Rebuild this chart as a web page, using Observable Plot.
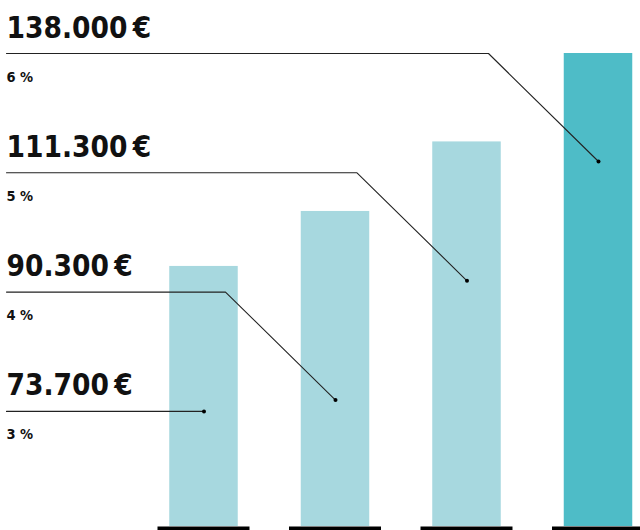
<!DOCTYPE html>
<html><head><meta charset="utf-8">
<script src="https://cdn.jsdelivr.net/npm/d3@7"></script>
<script src="https://cdn.jsdelivr.net/npm/@observablehq/plot@0.6"></script>
<style>html,body{margin:0;padding:0;background:#fff}svg{display:block}</style>
</head><body><div id="chart"></div>
<script>
// ---- data ----
const categories = ["1", "2", "3", "4"];
const values = [73700, 90300, 111300, 138000];
const valueLabels = ["73.700\u2009€", "90.300\u2009€", "111.300\u2009€", "138.000\u2009€"];
const shareLabels = ["3 %", "4 %", "5 %", "6 %"];
const highlighted = [false, false, false, true];

// ---- layout ----
const W = 640, H = 530;
const xDomain = [-1.5475, 3.3194];
const yMax = 138000;
const mTop = 53, mBottom = 20;
const xs = Plot.scale({x: {domain: xDomain, range: [0, W]}});
const ys = Plot.scale({y: {domain: [0, yMax], range: [H - mBottom, mTop]}});
const unitPerPxX = 1 / (xs.apply(1) - xs.apply(0));
const unitPerPxY = (ys.invert(0) - ys.invert(1));
const rowGapPx = 119.3, elbowPx = 110, dropPx = 108;
const xLeft = xs.invert(6);
const font = "'DejaVu Sans Condensed', 'DejaVu Sans', sans-serif";

const rows = values.map((v, i) => {
  const r = values.length - 1 - i;
  const ly = d3.max(values) - r * rowGapPx * unitPerPxY;
  return {i, cat: categories[i], value: v, label: valueLabels[i], share: shareLabels[i], hl: highlighted[i], ly};
});

const leader = [];
const ends = [];
for (const d of rows) {
  leader.push({k: d.i, x: xLeft, y: d.ly});
  if (d.i > 0) {
    leader.push({k: d.i, x: d.i - elbowPx * unitPerPxX, y: d.ly});
    leader.push({k: d.i, x: d.i, y: d.ly - dropPx * unitPerPxY});
    ends.push({x: d.i, y: d.ly - dropPx * unitPerPxY});
  } else {
    leader.push({k: d.i, x: d.i, y: d.ly});
    ends.push({x: d.i, y: d.ly});
  }
}

const bw = 34.25 * unitPerPxX, sw = 46 * unitPerPxX;

const chart = Plot.plot({
  width: W, height: H,
  marginTop: mTop, marginBottom: mBottom, marginLeft: 0, marginRight: 0,
  style: {fontFamily: font, background: "#fff"},
  x: {domain: xDomain, axis: null},
  y: {domain: [0, yMax], axis: null},
  color: {domain: [false, true], range: ["#a7d8df", "#4ebcc7"]},
  marks: [
    Plot.rectY(rows, {x1: d => d.i - bw, x2: d => d.i + bw, y: "value", fill: "hl", insetBottom: -16}),
    Plot.ruleY(rows, {y: d => 0, x1: d => d.i - sw, x2: d => d.i + sw, stroke: "#000", strokeWidth: 4, dy: 18}),
    Plot.line(leader, {x: "x", y: "y", z: "k", stroke: "#222", strokeWidth: 1.1}),
    Plot.dot(ends, {x: "x", y: "y", r: 2, fill: "#000"}),
    Plot.text(rows, {x: d => xLeft, y: "ly", text: "label", textAnchor: "start", lineAnchor: "bottom", dy: -16, fontSize: 29.5, fontWeight: "bold", fill: "#111"}),
    Plot.text(rows, {x: d => xLeft, y: "ly", text: "share", textAnchor: "start", lineAnchor: "bottom", dy: 28, fontSize: 14.5, fontWeight: "bold", fill: "#111"})
  ]
});
document.getElementById("chart").appendChild(chart);
</script>
</body></html>
